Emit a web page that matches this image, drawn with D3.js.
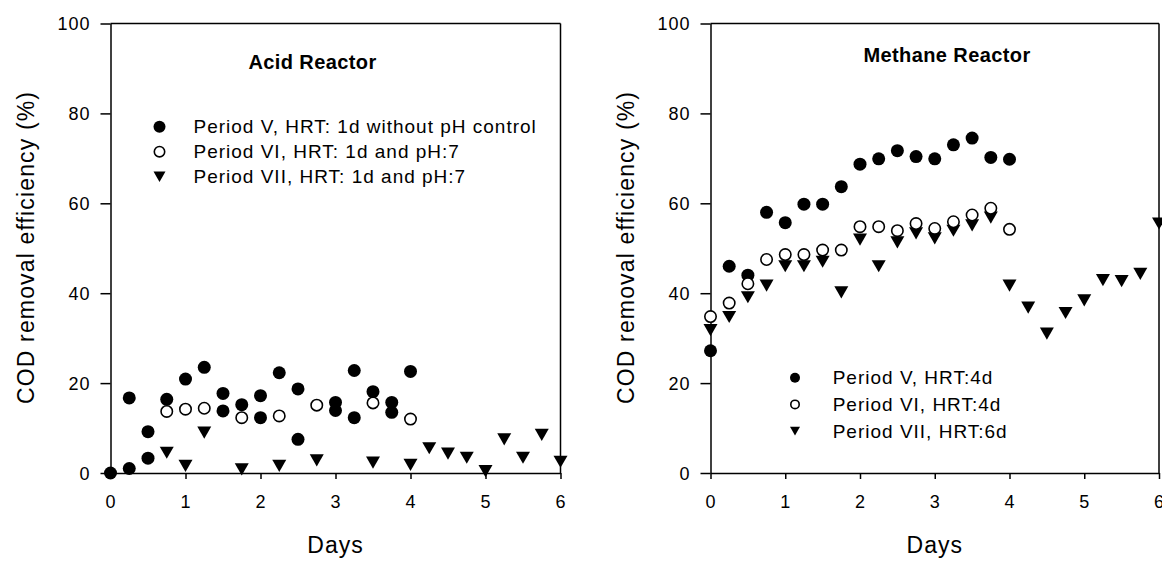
<!DOCTYPE html>
<html>
<head>
<meta charset="utf-8">
<script src="https://cdn.jsdelivr.net/npm/d3@7"></script>
<style>
  html, body { margin: 0; padding: 0; background: #fff; }
  svg { display: block; font-family: "Liberation Sans", Arial, sans-serif; }
</style>
</head>
<body>
<div id="chart"></div>
<script>
// COD removal efficiency, acid + methane reactors (two panels side by side)

var DAY_TICKS = [0, 1, 2, 3, 4, 5, 6];
var PCT_TICKS = [0, 20, 40, 60, 80, 100];
var Y_TITLE = "COD removal efficiency (%)";
var X_TITLE = "Days";

// [day, %]
var acidPeriodV = [
  [0, 0], [0.25, 16.7], [0.25, 1.0], [0.5, 9.2], [0.5, 3.3], [0.75, 16.4], [1, 20.9],
  [1.25, 23.5], [1.5, 17.7], [1.5, 13.8], [1.75, 15.2], [2, 17.2], [2, 12.3], [2.25, 22.3],
  [2.5, 18.7], [2.5, 7.5], [3, 15.7], [3, 13.9], [3.25, 22.8], [3.25, 12.3], [3.5, 18.1],
  [3.75, 15.7], [3.75, 13.5], [4, 22.6]
];
var acidPeriodVI = [
  [0.75, 13.7], [1, 14.2], [1.25, 14.4], [1.75, 12.3], [2.25, 12.7], [2.75, 15.1],
  [3.5, 15.6], [4, 12.0]
];
var acidPeriodVII = [
  [0.75, 4.5], [1, 1.6], [1.25, 9.0], [1.75, 0.8], [2.25, 1.6], [2.75, 2.8], [3.5, 2.3],
  [4, 1.8], [4.25, 5.5], [4.5, 4.3], [4.75, 3.4], [5, 0.4], [5.25, 7.5], [5.5, 3.4],
  [5.75, 8.5], [6, 2.5]
];

var methPeriodV = [
  [0, 27.2], [0.25, 46.0], [0.5, 44.0], [0.75, 58.0], [1, 55.7], [1.25, 59.8], [1.5, 59.8],
  [1.75, 63.7], [2, 68.7], [2.25, 69.9], [2.5, 71.7], [2.75, 70.4], [3, 69.9], [3.25, 73.0],
  [3.5, 74.5], [3.75, 70.2], [4, 69.8]
];
var methPeriodVI = [
  [0, 34.8], [0.25, 37.8], [0.5, 42.1], [0.75, 47.5], [1, 48.6], [1.25, 48.6], [1.5, 49.6],
  [1.75, 49.6], [2, 54.8], [2.25, 54.8], [2.5, 53.9], [2.75, 55.5], [3, 54.4], [3.25, 55.9],
  [3.5, 57.4], [3.75, 58.9], [4, 54.2]
];
var methPeriodVII = [
  [0, 31.8], [0.25, 34.7], [0.5, 39.1], [0.75, 41.7], [1, 46.0], [1.25, 46.0], [1.5, 47.0],
  [1.75, 40.2], [2, 51.9], [2.25, 46.0], [2.5, 51.3], [2.75, 53.3], [3, 52.2], [3.25, 53.9],
  [3.5, 55.1], [3.75, 56.8], [4, 41.7], [4.25, 36.8], [4.5, 31.0], [4.75, 35.6], [5, 38.4],
  [5.25, 42.9], [5.5, 42.7], [5.75, 44.3], [6, 55.5]
];

var acidLegend = [
  "Period V, HRT: 1d without pH control",
  "Period VI, HRT: 1d and pH:7",
  "Period VII, HRT: 1d and pH:7"
];
var methLegend = [
  "Period V, HRT:4d",
  "Period VI, HRT:4d",
  "Period VII, HRT:6d"
];

var W = 1162, H = 561;
var svg = d3.select("#chart").append("svg").attr("width", W).attr("height", H);
svg.append("rect").attr("width", W).attr("height", H).attr("fill", "#fff");

function triPath(s) {
  var w = s * 1.0, h = s * 0.87;
  return "M" + (-w) + "," + (-h) + "L" + w + "," + (-h) + "L0," + h + "Z";
}

function drawMark(g, kind, x, y, s) {
  if (kind === "filled") {
    g.append("circle").attr("cx", x).attr("cy", y).attr("r", s).attr("fill", "#000");
  } else if (kind === "open") {
    g.append("circle").attr("cx", x).attr("cy", y).attr("r", s - 0.8)
      .attr("fill", "#fff").attr("stroke", "#000").attr("stroke-width", 1.6);
  } else {
    g.append("path").attr("d", triPath(s)).attr("transform", "translate(" + x + "," + y + ")")
      .attr("fill", "#000");
  }
}

function panel(cfg) {
  var x = d3.scaleLinear().domain([0, 6]).range([cfg.x0, cfg.x1]);
  var y = d3.scaleLinear().domain([0, 100]).range([473, 23.5]);
  var g = svg.append("g");

  // frame top + right
  g.append("line").attr("x1", cfg.x0).attr("x2", cfg.x1).attr("y1", y(100)).attr("y2", y(100))
    .attr("stroke", "#000").attr("stroke-width", 1.5);
  g.append("line").attr("x1", cfg.x1).attr("x2", cfg.x1).attr("y1", y(100)).attr("y2", y(0))
    .attr("stroke", "#000").attr("stroke-width", 1.5);

  var ax = g.append("g").attr("transform", "translate(0," + y(0) + ")")
    .call(d3.axisBottom(x).tickValues(DAY_TICKS).tickSize(6).tickSizeOuter(0).tickPadding(16)
      .tickFormat(d3.format("d")));
  var ay = g.append("g").attr("transform", "translate(" + cfg.x0 + ",0)")
    .call(d3.axisLeft(y).tickValues(PCT_TICKS).tickSize(10).tickSizeOuter(0).tickPadding(10)
      .tickFormat(d3.format("d")));
  [ax, ay].forEach(function (a) {
    a.select(".domain").attr("stroke", "#000").attr("stroke-width", 1.5);
    a.selectAll(".tick line").attr("stroke", "#000").attr("stroke-width", 1.5);
    a.selectAll(".tick text").attr("fill", "#000").style("font-size", "18px")
      .style("letter-spacing", "1px");
  });
  ay.selectAll(".tick text").attr("dy", "0.36em");

  g.append("text").attr("x", cfg.x0 + (cfg.x1 - cfg.x0) / 2).attr("y", 553)
    .attr("text-anchor", "middle").style("font-size", "23px").style("letter-spacing", "1px")
    .text(X_TITLE);
  g.append("text").attr("transform", "translate(" + (cfg.x0 - 77) + ",248) rotate(-90)")
    .attr("text-anchor", "middle").style("font-size", "23px")
    .attr("textLength", 312).attr("lengthAdjust", "spacing")
    .text(Y_TITLE);

  g.append("text").attr("x", cfg.titleX).attr("y", cfg.titleY).attr("text-anchor", "middle")
    .style("font-size", "20px").style("font-weight", "bold").style("letter-spacing", "0.4px")
    .text(cfg.title);

  // points: filled, triangles, then open circles on top
  var pts = g.append("g");
  cfg.series[0].forEach(function (d) { drawMark(pts, "filled", x(d[0]), y(d[1]), 6.5); });
  cfg.series[2].forEach(function (d) { drawMark(pts, "tri", x(d[0]), y(d[1]), 7); });
  cfg.series[1].forEach(function (d) { drawMark(pts, "open", x(d[0]), y(d[1]), 6.5); });

  var kinds = ["filled", "open", "tri"];
  var lg = g.append("g");
  cfg.legend.forEach(function (label, i) {
    var ry = cfg.legY + i * cfg.legStep;
    drawMark(lg, kinds[i], cfg.legSymX, ry, cfg.legSym);
    lg.append("text").attr("x", cfg.legTextX).attr("y", ry + 6.5)
      .style("font-size", "19px").style("letter-spacing", "1px").text(label);
  });
}

panel({
  x0: 110.5, x1: 560.5, title: "Acid Reactor", titleX: 312.5, titleY: 69,
  series: [acidPeriodV, acidPeriodVI, acidPeriodVII], legend: acidLegend,
  legSymX: 159.5, legTextX: 193.5, legY: 126.7, legStep: 25, legSym: 6
});
panel({
  x0: 710.5, x1: 1159, title: "Methane Reactor", titleX: 947, titleY: 62,
  series: [methPeriodV, methPeriodVI, methPeriodVII], legend: methLegend,
  legSymX: 795, legTextX: 832.7, legY: 377.7, legStep: 26.7, legSym: 5
});
</script>
</body>
</html>
